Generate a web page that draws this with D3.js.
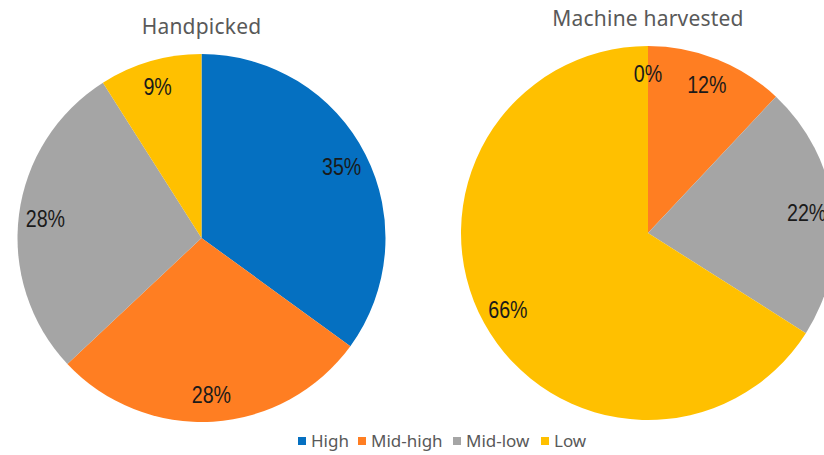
<!DOCTYPE html>
<html>
<head>
<meta charset="utf-8">
<script src="https://cdn.jsdelivr.net/npm/d3@7/dist/d3.min.js"></script>
<style>
  html, body { margin: 0; padding: 0; background: #fff; }
  svg { display: block; }
</style>
</head>
<body>
<svg id="chart" width="824" height="455"></svg>
<script>
// Quality grades shared by both pies
const categories = ["High", "Mid-high", "Mid-low", "Low"];
const colors = ["#0570C1", "#FF7E22", "#A5A5A5", "#FFC000"];

// Share of each grade (%)
const handpicked = [35, 28, 28, 9];
const machineHarvested = [0, 12, 22, 66];

const titles = ["Handpicked", "Machine harvested"];

const svg = d3.select("#chart");
const color = d3.scaleOrdinal().domain(categories).range(colors);

const pies = [
  { title: titles[0], values: handpicked, cx: 201.5, cy: 238, r: 184, titleY: 34 },
  { title: titles[1], values: machineHarvested, cx: 648, cy: 233, r: 187, titleY: 26 }
];

const pieGen = d3.pie().sort(null).value(d => d.value);

pies.forEach(p => {
  const data = categories.map((c, i) => ({ cat: c, value: p.values[i] }));
  const arcs = pieGen(data);
  const arc = d3.arc().innerRadius(0).outerRadius(p.r);
  const labelArc = d3.arc().innerRadius(p.r * 0.855).outerRadius(p.r * 0.855);

  const g = svg.append("g").attr("transform", `translate(${p.cx},${p.cy})`);

  g.selectAll("path.slice")
    .data(arcs)
    .join("path")
    .attr("class", "slice")
    .attr("d", arc)
    .attr("fill", d => color(d.data.cat));

  // Value labels, set in a condensed face
  g.selectAll("text.lbl")
    .data(arcs)
    .join("text")
    .attr("class", "lbl")
    .attr("transform", d => {
      const [x, y] = labelArc.centroid(d);
      return `translate(${x},${y}) scale(0.82,1)`;
    })
    .attr("text-anchor", "middle")
    .attr("dy", "0.35em")
    .attr("font-family", "'Liberation Sans', Arial, sans-serif")
    .attr("font-size", 24)
    .attr("fill", "#1a1a1a")
    .text(d => d.data.value + "%");

  svg.append("text")
    .attr("x", p.cx)
    .attr("y", p.titleY)
    .attr("text-anchor", "middle")
    .attr("font-family", "'Noto Sans', 'Open Sans', sans-serif")
    .attr("font-size", 21)
    .attr("letter-spacing", 0.2)
    .attr("fill", "#595959")
    .text(p.title);
});

// Legend along the bottom
const legendX = [298, 358, 453, 541];
const legend = svg.append("g");
categories.forEach((c, i) => {
  legend.append("rect")
    .attr("x", legendX[i])
    .attr("y", 437)
    .attr("width", 8)
    .attr("height", 8)
    .attr("fill", color(c));
  legend.append("text")
    .attr("x", legendX[i] + 13)
    .attr("y", 441)
    .attr("dy", "0.35em")
    .attr("font-family", "'Noto Sans', 'Open Sans', sans-serif")
    .attr("font-size", 17)
    .attr("fill", "#595959")
    .text(c);
});
</script>
</body>
</html>
